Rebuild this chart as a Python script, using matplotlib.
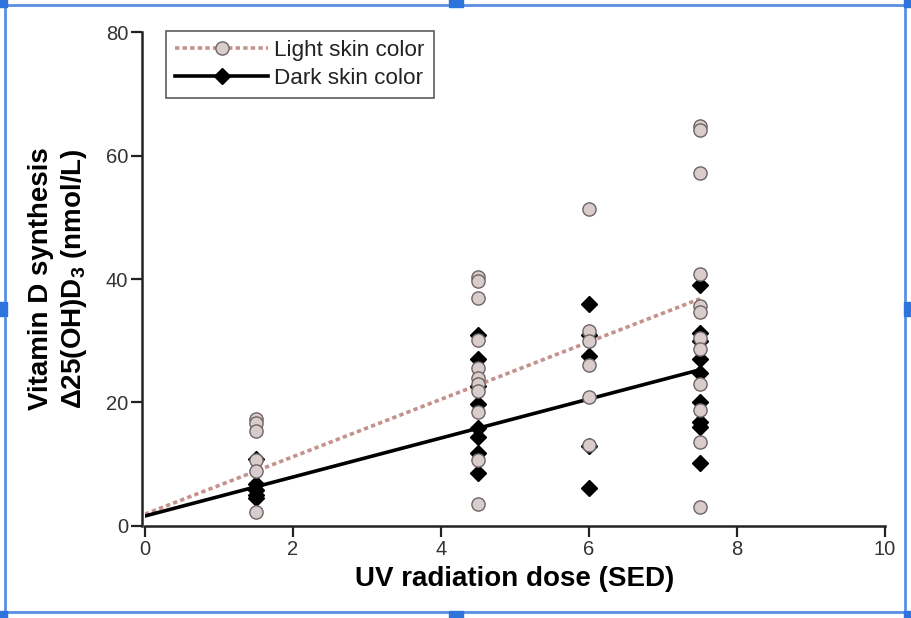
import matplotlib
matplotlib.use("Agg")
import matplotlib.pyplot as plt
from matplotlib.lines import Line2D
from matplotlib.patches import Rectangle

plt.rcParams["font.family"] = ["Liberation Sans", "DejaVu Sans"]
plt.rcParams["mathtext.fontset"] = "custom"
plt.rcParams["mathtext.bf"] = "Liberation Sans:bold"

# measured doses (SED) and vitamin D response values
light_x = [1.5] * 6 + [4.5] * 11 + [6.0] * 6 + [7.5] * 12
light_y = [17.3, 16.7, 15.4, 10.6, 8.9, 2.3,
           40.4, 39.6, 37.0, 30.1, 25.6, 24.0, 23.0, 21.8, 18.4, 10.7, 3.5,
           51.4, 31.6, 30.0, 26.0, 20.9, 13.1,
           64.8, 64.2, 57.2, 40.8, 35.6, 34.6, 30.4, 28.6, 23.0, 18.8, 13.6, 3.0]

dark_x = [1.5] * 5 + [4.5] * 8 + [6.0] * 5 + [7.5] * 9
dark_y = [10.8, 6.8, 5.8, 5.0, 4.5,
          31.0, 27.0, 22.6, 19.8, 15.8, 14.4, 11.8, 8.6,
          36.0, 31.0, 27.6, 13.0, 6.2,
          39.0, 31.3, 27.0, 24.8, 20.0, 16.8, 16.1, 10.2, 30.0]

# regression line end points
fit_x = [0.0, 7.5]
light_fit = [1.9, 36.8]
dark_fit = [1.6, 25.3]

light_line = "#c4918c"
light_face = "#d8cccc"
light_edge = "#6e6464"

fig = plt.figure(figsize=(9.11, 6.18), dpi=100)
ax = fig.add_axes([0.159, 0.149, 0.8125, 0.799])

ax.plot(fit_x, light_fit, color=light_line, lw=2.6, ls=(0, (1.2, 0.9)), zorder=2)
ax.plot(fit_x, dark_fit, color="black", lw=2.6, zorder=2)
ax.plot(dark_x, dark_y, ls="none", marker="D", ms=8.5, color="black", zorder=3)
ax.plot(light_x, light_y, ls="none", marker="o", ms=9.5, mfc=light_face,
        mec=light_edge, mew=1.0, zorder=4)

ax.set_xlim(0, 10)
ax.set_ylim(0, 80)
ax.set_xticks([0, 2, 4, 6, 8, 10])
ax.set_yticks([0, 20, 40, 60, 80])
for side in ["top", "right"]:
    ax.spines[side].set_visible(False)
for side in ["left", "bottom"]:
    ax.spines[side].set_linewidth(1.8)
    ax.spines[side].set_color("#222222")
ax.spines["left"].set_position(("outward", 2))
ax.tick_params(direction="out", length=8, width=1.6, color="#222222",
               labelsize=14.5, labelcolor="#333333", pad=2)

ax.set_xlabel("UV radiation dose (SED)", fontsize=20, fontweight="bold", labelpad=5)
ax.set_ylabel("Vitamin D synthesis\n\u039425(OH)D$_{\\mathbf{3}}$ (nmol/L)",
              fontsize=20, fontweight="bold", labelpad=12, linespacing=1.25)

handles = [
    Line2D([], [], color=light_line, lw=2.6, ls=(0, (1.2, 0.9)), marker="o", ms=9.5,
           mfc=light_face, mec=light_edge, mew=1.0),
    Line2D([], [], color="black", lw=2.6, marker="D", ms=8.5),
]
leg = ax.legend(handles, ["Light skin color", "Dark skin color"], loc="upper left",
                bbox_to_anchor=(0.014, 1.025), fontsize=16.2, frameon=True, fancybox=False,
                edgecolor="#333333", handlelength=4.1, borderpad=0.4,
                labelspacing=0.3, handletextpad=0.3)
leg.get_frame().set_linewidth(1.2)
for t in leg.get_texts():
    t.set_color("#222222")

# selection frame around the picture
blue = "#2f74dc"
frame = [([0.005, 0.005], [0.0, 1.0]), ([0.993, 0.993], [0.0, 1.0]),
         ([0.0, 1.0], [0.992, 0.992]), ([0.0, 1.0], [0.01, 0.01])]
for fx, fy in frame:
    fig.add_artist(Line2D(fx, fy, color=blue, lw=2, alpha=0.8, transform=fig.transFigure))
hw, hh = 14 / 911, 14 / 618
for cx in [0.0, 0.5, 1.0]:
    for cy in [0.0, 0.5, 1.0]:
        if cx == 0.5 and cy == 0.5:
            continue
        fig.add_artist(Rectangle((cx - hw / 2, cy - hh / 2), hw, hh, color=blue,
                                 transform=fig.transFigure, zorder=10))

fig.savefig("out.png", dpi=100)
